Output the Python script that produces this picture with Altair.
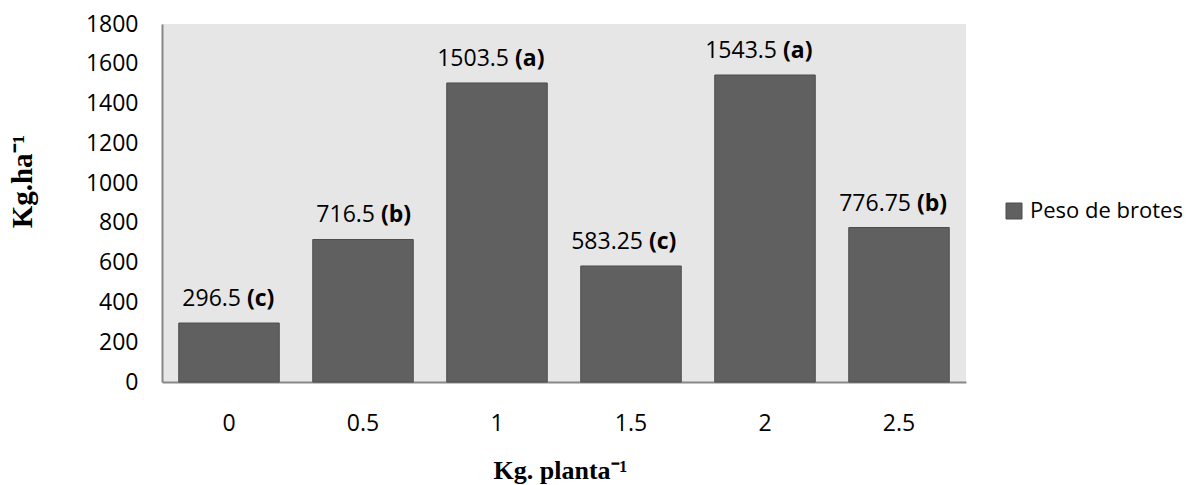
import altair as alt
import pandas as pd

categories = ["0", "0.5", "1", "1.5", "2", "2.5"]
values = [296.5, 716.5, 1503.5, 583.25, 1543.5, 776.75]
value_labels = ["296.5", "716.5", "1503.5", "583.25", "1543.5", "776.75"]
letters = ["(c)", "(b)", "(a)", "(c)", "(a)", "(b)"]
series_name = "Peso de brotes"
y_ticks = [0, 200, 400, 600, 800, 1000, 1200, 1400, 1600, 1800]

df = pd.DataFrame({
    "cat": categories,
    "val": values,
    "vlab": value_labels,
    "let": letters,
    "serie": [series_name] * len(categories),
})

FONT = "Open Sans"
FS = 23
BAR = "#606060"

x_enc = alt.X(
    "cat:N",
    sort=categories,
    scale=alt.Scale(paddingInner=0.25, paddingOuter=0.125),
    axis=alt.Axis(
        title="Kg. planta\u207b\u00b9",
        labelAngle=0,
        ticks=False,
        labelPadding=30,
        labelFont=FONT,
        labelFontSize=FS,
        labelColor="black",
        domainColor="#878787",
        domainWidth=2,
        titleFont="Liberation Serif",
        titleFontSize=26,
        titleFontWeight="bold",
        titleColor="black",
        titleX=398,
        titleY=88,
        titleBaseline="middle",
        titleAlign="center",
    ),
)
y_enc = alt.Y(
    "val:Q",
    scale=alt.Scale(domain=[0, 1800], nice=False),
    axis=alt.Axis(
        title="Kg.ha\u207b\u00b9",
        values=y_ticks,
        format="d",
        labelOverlap=False,
        labelFlush=False,
        grid=False,
        ticks=False,
        labelPadding=24,
        labelFont=FONT,
        labelFontSize=FS,
        labelColor="black",
        domainColor="#878787",
        domainWidth=2,
        titleFont="Liberation Serif",
        titleFontSize=29,
        titleFontWeight="bold",
        titleColor="black",
        titleX=-140,
        titleY=157,
        titleBaseline="middle",
        titleAlign="center",
        titleAngle=270,
    ),
)

base = alt.Chart(df).encode(x=x_enc, y=y_enc)

bars = base.mark_bar(stroke="#4d4d4d", strokeWidth=1).encode(
    color=alt.Color(
        "serie:N",
        scale=alt.Scale(range=[BAR]),
        legend=alt.Legend(
            title=None,
            orient="none",
            legendX=841,
            legendY=176,
            symbolType="square",
            symbolSize=256,
            symbolStrokeColor="#4d4d4d",
            symbolStrokeWidth=1,
            labelFont=FONT,
            labelFontSize=22,
            labelColor="black",
            padding=0,
            labelOffset=5,
        ),
    ),
)

vals_text = base.mark_text(
    align="right", baseline="alphabetic", dx=12, dy=-17,
    font=FONT, fontSize=FS, color="black",
).encode(text="vlab:N")

let_text = base.mark_text(
    align="left", baseline="alphabetic", dx=18, dy=-17,
    font=FONT, fontSize=FS, fontWeight="bold", color="black",
).encode(text="let:N")

chart = alt.layer(bars, vals_text, let_text).properties(
    width=804,
    height=358,
    autosize=alt.AutoSizeParams(type="none"),
    padding={"left": 162, "top": 24, "right": 222, "bottom": 103},
    background="white",
).configure_view(
    fill="#E6E6E6",
    stroke=None,
)

chart.save("out.html", embed_options={"renderer": "svg", "actions": False})
